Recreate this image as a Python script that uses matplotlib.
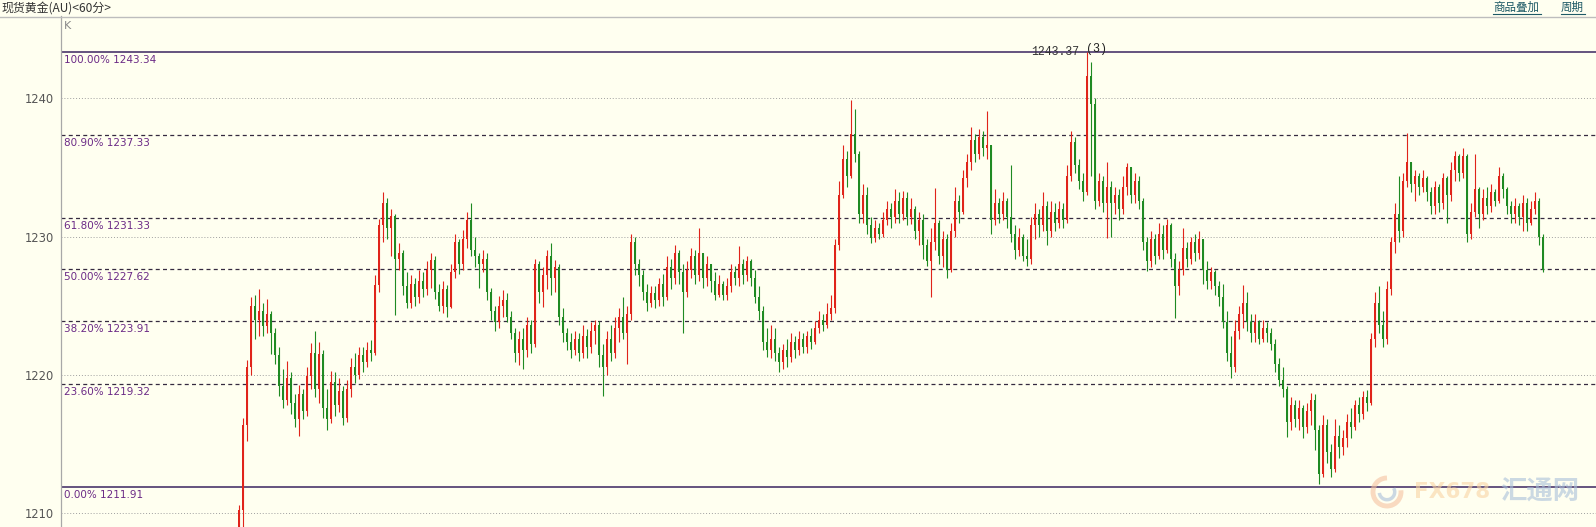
import matplotlib
matplotlib.use('Agg')
import matplotlib.pyplot as plt
from matplotlib.patches import Arc
from matplotlib.lines import Line2D

# hourly gold candles (open = previous close)
first_open = 1209.0
closes = [
    1210.2, 1216.4, 1220.6, 1225.0, 1224.0, 1224.6, 1223.5, 1224.4, 1223.0, 1221.4,
    1219.2, 1218.2, 1219.8, 1218.0, 1216.8, 1218.6, 1217.4, 1219.9, 1221.6, 1219.0,
    1221.5, 1217.6, 1216.8, 1219.5, 1217.8, 1218.8, 1216.9, 1219.0, 1220.6, 1220.0,
    1221.4, 1220.9, 1221.8, 1221.6, 1226.5, 1230.8, 1232.4, 1230.6, 1231.5, 1228.4,
    1228.8, 1226.4, 1225.2, 1226.6, 1225.6, 1226.8, 1226.2, 1227.6, 1228.3, 1226.0,
    1225.0, 1226.2, 1224.9, 1227.4, 1229.6, 1228.0, 1229.8, 1231.2, 1229.0, 1228.6,
    1228.0, 1228.4, 1226.0, 1224.6, 1223.8, 1225.0, 1225.4, 1224.2, 1223.0, 1221.6,
    1222.6, 1221.8, 1223.6, 1222.2, 1228.0, 1226.0, 1227.2, 1228.6, 1227.0, 1227.8,
    1224.2, 1223.0, 1222.4, 1221.8, 1222.6, 1221.6, 1222.8, 1222.0, 1223.2, 1223.6,
    1221.4, 1220.6, 1222.6, 1221.6, 1223.4, 1224.2, 1223.0, 1224.4, 1229.6, 1228.0,
    1227.2, 1226.0, 1225.2, 1225.9, 1225.4, 1226.6, 1225.6, 1227.8, 1227.0, 1228.8,
    1227.4, 1226.0, 1227.6, 1228.6, 1227.2, 1228.8, 1227.0, 1228.0, 1226.8, 1225.8,
    1226.6, 1225.8, 1226.4, 1227.4, 1227.0, 1228.0, 1227.2, 1228.2, 1227.0, 1225.6,
    1224.6, 1222.4, 1221.8, 1222.6, 1221.6, 1220.9, 1221.8, 1221.3, 1222.4, 1221.8,
    1222.6, 1222.0, 1222.8, 1222.4, 1223.4, 1224.0, 1223.6, 1224.4, 1224.8, 1229.4,
    1233.0, 1235.6, 1234.4, 1237.4, 1236.0, 1231.6, 1233.0, 1230.8, 1229.9, 1230.6,
    1230.2, 1231.2, 1232.0, 1231.4, 1232.6, 1231.6, 1232.8, 1231.4, 1232.0, 1230.4,
    1231.2, 1229.4, 1228.2, 1229.6, 1231.0, 1228.6, 1229.8, 1227.6, 1230.4, 1232.6,
    1231.8, 1234.2, 1235.4, 1237.0, 1236.0, 1237.2, 1236.4, 1236.6, 1231.2, 1232.4,
    1231.6, 1232.6, 1231.4, 1230.2, 1229.0, 1230.0, 1228.6, 1228.4, 1230.8, 1231.6,
    1230.8, 1232.2, 1230.4, 1231.8, 1231.0, 1232.0, 1231.2, 1234.4, 1236.8, 1235.2,
    1234.0, 1233.2, 1241.6, 1239.6, 1232.6, 1234.0, 1232.4, 1233.6, 1232.4, 1233.0,
    1232.0, 1233.6, 1235.0, 1233.0, 1234.0, 1232.6, 1229.6, 1228.2, 1229.8, 1228.6,
    1230.2, 1229.0, 1230.8, 1228.4, 1226.4, 1227.6, 1229.2, 1228.4, 1229.6, 1228.8,
    1229.8, 1227.6, 1226.8, 1227.4, 1226.4, 1225.6, 1223.8, 1221.6, 1220.6, 1223.2,
    1224.4, 1225.2, 1223.8, 1223.0, 1223.8, 1222.6, 1223.4, 1223.0, 1222.2, 1220.8,
    1219.6, 1219.0, 1216.6, 1217.8, 1216.8, 1217.6, 1216.2, 1217.4, 1218.2, 1216.0,
    1212.8, 1216.4, 1214.4, 1213.2, 1215.6, 1214.8, 1215.4, 1216.6, 1216.2, 1217.8,
    1217.2, 1218.4, 1218.0, 1222.6, 1225.2, 1223.6, 1222.6, 1226.2, 1229.6, 1231.6,
    1230.4, 1234.0, 1235.4, 1233.8, 1234.4, 1233.6, 1234.2, 1233.2, 1232.2, 1233.6,
    1232.4, 1234.2, 1233.0, 1234.8, 1235.8, 1234.6, 1235.8, 1230.2, 1231.8, 1233.4,
    1231.6, 1232.8, 1232.2, 1233.2, 1232.6, 1234.4, 1233.4, 1232.2, 1231.6, 1232.2,
    1231.4, 1232.4, 1231.0, 1232.0, 1232.6, 1230.0, 1227.6,
]
highs = [
    1210.6, 1216.9, 1221.1, 1225.6, 1225.8, 1226.2, 1225.2, 1225.5, 1224.6, 1223.4,
    1222.0, 1220.4, 1221.0, 1220.2, 1218.6, 1219.3, 1219.0, 1220.6, 1222.3, 1223.2,
    1222.4, 1221.8, 1219.0, 1220.3, 1220.2, 1219.8, 1219.2, 1219.6, 1221.2, 1221.6,
    1222.0, 1222.0, 1222.4, 1222.5, 1227.2, 1231.3, 1233.2, 1232.8, 1232.0, 1231.6,
    1229.5, 1229.0, 1227.4, 1227.2, 1227.0, 1227.6, 1227.4, 1228.2, 1228.8, 1228.6,
    1226.6, 1226.8, 1226.5, 1228.0, 1230.2, 1229.8, 1230.5, 1231.8, 1232.4, 1230.0,
    1228.8, 1229.0, 1228.8, 1226.3, 1225.0, 1225.7, 1226.1, 1225.9, 1224.6, 1223.4,
    1223.2, 1223.4, 1224.2, 1224.0, 1228.4, 1228.2, 1227.8, 1229.0, 1229.5, 1228.3,
    1228.0, 1224.8, 1223.4, 1223.0, 1223.2, 1223.0, 1223.6, 1223.3, 1223.8, 1224.0,
    1223.9, 1222.2, 1223.2, 1223.6, 1224.2, 1224.8, 1225.6, 1225.0, 1230.2, 1230.0,
    1228.4, 1227.6, 1226.6, 1226.4, 1226.4, 1227.0, 1227.3, 1228.6, 1228.4, 1229.4,
    1229.0, 1228.0, 1228.2, 1229.2, 1229.0, 1230.6, 1228.8, 1228.6, 1228.0, 1227.4,
    1227.2, 1226.8, 1227.0, 1228.0, 1227.9, 1229.3, 1228.4, 1228.6, 1228.4, 1227.6,
    1226.4, 1225.0, 1223.4, 1223.6, 1223.4, 1222.0, 1222.2, 1222.6, 1223.0, 1222.8,
    1223.2, 1223.0, 1223.2, 1223.4, 1223.9, 1224.6, 1224.4, 1225.2, 1225.8, 1229.8,
    1234.0, 1236.6, 1236.2, 1239.9, 1239.2, 1236.2, 1233.8, 1233.6, 1231.4, 1231.2,
    1231.0, 1231.8, 1232.6, 1232.4, 1233.4, 1233.2, 1233.3, 1233.2, 1232.8, 1232.2,
    1231.8, 1231.6, 1229.8, 1230.6, 1233.5, 1231.2, 1230.4, 1230.2, 1231.0, 1233.6,
    1233.0, 1234.8, 1236.0, 1237.9, 1237.4, 1237.8, 1237.6, 1239.1, 1236.6, 1233.4,
    1232.8, 1233.2, 1232.8, 1235.2, 1230.8, 1230.6, 1230.2, 1229.8, 1231.4, 1232.4,
    1232.0, 1233.2, 1232.6, 1232.6, 1232.4, 1232.6, 1232.4, 1235.2, 1237.6, 1237.2,
    1235.6, 1234.6, 1243.37, 1242.6, 1240.0, 1234.6, 1234.4, 1235.4, 1234.0, 1233.6,
    1233.4, 1234.4, 1235.3, 1235.0, 1234.6, 1234.4, 1232.8, 1230.0, 1230.4, 1230.2,
    1231.0, 1230.8, 1231.3, 1231.0, 1228.8, 1228.2, 1230.6, 1229.6, 1230.0, 1230.2,
    1230.4, 1229.8, 1228.2, 1227.8, 1227.6, 1226.8, 1226.6, 1224.6, 1222.8, 1224.0,
    1225.0, 1226.5, 1226.0, 1224.4, 1224.4, 1224.0, 1224.0, 1223.8, 1223.4, 1222.6,
    1221.2, 1220.6, 1219.2, 1218.4, 1218.2, 1218.2, 1217.8, 1218.0, 1218.7, 1218.6,
    1216.4, 1217.1, 1216.8, 1215.0, 1216.8, 1216.4, 1216.0, 1217.2, 1217.6, 1218.2,
    1218.4, 1218.8, 1218.9, 1223.0, 1226.0, 1226.4, 1224.6, 1226.8, 1230.0, 1232.4,
    1234.4, 1234.6, 1237.5, 1235.4, 1234.8, 1234.6, 1234.8, 1234.4, 1233.6, 1234.0,
    1233.8, 1234.6, 1234.4, 1235.4, 1236.2, 1236.0, 1236.4, 1236.0, 1232.4, 1236.0,
    1233.6, 1233.4, 1233.6, 1233.8, 1233.4, 1235.0, 1234.6, 1233.6, 1232.6, 1232.8,
    1232.4, 1233.0, 1232.8, 1232.6, 1233.2, 1232.8, 1230.2,
]
lows = [
    1208.5, 1208.8, 1215.2, 1220.0, 1222.6, 1222.8, 1222.8, 1223.0, 1221.5, 1220.8,
    1218.5, 1217.6, 1217.8, 1217.2, 1216.2, 1215.6, 1216.8, 1217.0, 1219.0, 1218.4,
    1218.0, 1216.9, 1216.0, 1216.5, 1217.0, 1217.3, 1216.4, 1216.6, 1218.4, 1219.4,
    1219.7, 1220.2, 1220.6, 1221.0, 1221.4, 1226.0, 1229.6, 1229.8, 1228.6, 1224.3,
    1227.6, 1225.8, 1224.8, 1224.8, 1225.0, 1225.2, 1225.6, 1225.8, 1226.3, 1225.5,
    1224.6, 1224.5, 1224.2, 1224.8, 1227.0, 1227.3, 1227.6, 1229.2, 1228.6, 1227.8,
    1226.3, 1227.4, 1225.4, 1224.0, 1223.2, 1223.4, 1224.2, 1223.8, 1222.6, 1220.9,
    1220.7, 1220.4, 1221.3, 1221.6, 1222.0, 1225.2, 1224.9, 1226.2, 1225.8, 1226.0,
    1223.6, 1222.4, 1221.8, 1221.2, 1221.4, 1221.0, 1221.2, 1221.2, 1221.6, 1222.2,
    1220.6, 1218.5, 1220.0, 1221.0, 1221.2, 1222.4, 1222.6, 1220.8, 1224.0, 1227.2,
    1226.4, 1225.4, 1224.6, 1224.9, 1224.8, 1225.0, 1225.0, 1225.4, 1226.2, 1226.6,
    1226.6, 1223.0, 1225.6, 1227.0, 1226.6, 1226.8, 1226.3, 1226.4, 1226.0, 1225.4,
    1225.6, 1225.4, 1225.4, 1226.0, 1226.5, 1226.4, 1226.6, 1226.8, 1226.4, 1225.2,
    1224.0, 1221.8, 1221.3, 1221.2, 1221.0, 1220.2, 1220.4, 1220.6, 1220.9, 1221.2,
    1221.4, 1221.6, 1221.6, 1221.9, 1222.2, 1223.0, 1223.2, 1223.4, 1224.0, 1224.5,
    1229.0, 1232.8, 1233.6, 1234.2, 1235.4, 1231.0, 1231.0, 1230.2, 1229.5, 1229.6,
    1229.8, 1230.0, 1230.8, 1230.6, 1231.0, 1231.0, 1231.2, 1230.8, 1230.9, 1229.8,
    1229.4, 1228.4, 1227.9, 1225.6, 1229.0, 1228.0, 1227.8, 1227.0, 1227.4, 1230.0,
    1231.0, 1231.6, 1233.6, 1234.8, 1235.4, 1235.6, 1235.8, 1235.6, 1230.2, 1230.8,
    1231.0, 1231.2, 1230.6, 1229.6, 1228.4, 1228.6, 1228.2, 1227.9, 1228.0, 1229.8,
    1230.0, 1230.4, 1229.4, 1230.0, 1230.4, 1230.6, 1230.6, 1231.0, 1234.0, 1234.6,
    1233.4, 1232.6, 1233.0, 1234.4, 1232.0, 1232.2, 1231.8, 1229.9, 1230.0, 1231.6,
    1231.2, 1231.6, 1233.0, 1232.4, 1232.4, 1232.0, 1229.0, 1227.5, 1227.8, 1228.0,
    1228.4, 1228.4, 1228.8, 1227.8, 1224.1, 1225.8, 1227.2, 1227.8, 1228.0, 1228.2,
    1228.4, 1226.6, 1226.2, 1226.2, 1225.8, 1225.0, 1223.4, 1221.0, 1219.8, 1220.2,
    1222.6, 1223.4, 1223.2, 1222.4, 1222.4, 1222.2, 1222.4, 1222.4, 1221.8, 1220.2,
    1219.2, 1218.4, 1215.5, 1216.0, 1216.2, 1216.0, 1215.4, 1215.8, 1216.4, 1214.6,
    1212.1, 1212.6, 1213.6, 1212.6, 1213.0, 1214.0, 1214.2, 1214.8, 1215.4, 1216.0,
    1216.6, 1216.8, 1217.4, 1217.8, 1222.0, 1223.0, 1222.0, 1222.2, 1225.8, 1228.8,
    1229.6, 1230.0, 1233.6, 1233.2, 1232.6, 1233.0, 1233.2, 1232.6, 1231.6, 1231.6,
    1231.8, 1232.0, 1231.0, 1232.6, 1234.0, 1234.0, 1234.2, 1229.6, 1229.8, 1231.4,
    1230.6, 1231.2, 1231.6, 1231.8, 1232.2, 1232.4, 1232.8, 1231.6, 1231.0, 1231.0,
    1230.8, 1230.4, 1230.4, 1230.8, 1231.6, 1229.4, 1227.4,
]

fib_pcts = ['100.00%', '80.90%', '61.80%', '50.00%', '38.20%', '23.60%', '0.00%']
fib_prices = [1243.34, 1237.33, 1231.33, 1227.62, 1223.91, 1219.32, 1211.91]
y_ticks = [1210, 1220, 1230, 1240]
peak_text = '1243.37'
peak_wave = '(3)'
low_wave = '(4)'
title = '现货黄金(AU)<60分>'
links = ['商品叠加', '周期']

bg = '#fffff0'
up_col = '#e0241a'
down_col = '#1f8a22'
cjk = ['Noto Sans CJK SC', 'DejaVu Sans']

W, H = 1596, 527
fig = plt.figure(figsize=(W / 100, H / 100), dpi=100)
fig.patch.set_facecolor(bg)
ax = fig.add_axes([61 / W, 0, (W - 61) / W, (H - 16) / H])
ax.set_facecolor(bg)

opens = [first_open] + closes[:-1]
xs = list(range(len(closes)))
cols = [up_col if c >= o else down_col for o, c in zip(opens, closes)]
bottoms = [min(o, c) for o, c in zip(opens, closes)]
heights = [max(abs(c - o), 0.08) for o, c in zip(opens, closes)]

ax.vlines(xs, lows, highs, colors=cols, linewidth=0.8, zorder=3)
ax.bar(xs, heights, bottom=bottoms, width=0.45, color=cols, linewidth=0, zorder=3)

ax.set_xlim(-44.5, -44.5 + (W - 61) / 4)
ax.set_ylim(1209.0, 1245.94)

# grid + axis
ax.set_yticks(y_ticks)
ax.set_xticks([])
ax.yaxis.grid(True, linestyle=(0, (1, 2)), color='#a0a0a0', linewidth=0.7)
ax.set_axisbelow(True)
ax.tick_params(axis='y', length=0, pad=5, labelsize=8.3, labelcolor='#555555')
for s in ['top', 'right', 'bottom']:
    ax.spines[s].set_visible(False)
ax.spines['left'].set_color('#a8a8a8')
ax.spines['left'].set_linewidth(0.9)

# fibonacci levels
for pct, price in zip(fib_pcts, fib_prices):
    if pct in ('100.00%', '0.00%'):
        ax.axhline(price, color='#3a2560', linewidth=1.1, zorder=2)
    else:
        ax.axhline(price, color='#352a40', linewidth=0.9, linestyle=(0, (3.2, 2.6)), zorder=2)
    ax.annotate(pct + ' ' + format(price, '.2f'), xy=(0, price),
                xycoords=('axes fraction', 'data'), xytext=(3, -3),
                textcoords='offset pixels', ha='left', va='top',
                fontsize=7.5, color='#6b2a86', zorder=4)

# wave marks
i_top = highs.index(max(highs))
i_bot = lows.index(min(lows))
ax.annotate(peak_text, xy=(i_top, highs[i_top]), xytext=(-8, -6), textcoords='offset pixels',
            ha='right', va='bottom', fontsize=8.3, family='Liberation Mono', color='#333333', zorder=5)
ax.annotate(peak_wave, xy=(i_top, highs[i_top]), xytext=(-1, -3), textcoords='offset pixels',
            ha='left', va='bottom', fontsize=8.5, family='Liberation Mono', color='#222222', zorder=5)
ax.annotate(low_wave, xy=(i_bot, lows[i_bot]), xytext=(2, -5), textcoords='offset pixels',
            ha='center', va='top', fontsize=8.5, family='Liberation Mono', color='#222222', zorder=5)

ax.text(0.002, 1 - 10 / (H - 16), 'K', transform=ax.transAxes, ha='left', va='center',
        fontsize=8, color='#888888')

# header strip
fig.text(1 / W, 1 - 8 / H, title, ha='left', va='center', fontsize=8.6, family=cjk, color='#333333')
fig.add_artist(Line2D([0, 1], [1 - 16.5 / H, 1 - 16.5 / H], color='#bdbdbd', linewidth=1))
link_x = [1493, 1561]
for lx, txt in zip(link_x, links):
    t = fig.text(lx / W, 1 - 7 / H, txt, ha='left', va='center', fontsize=8.3, family=cjk,
                 color='#1e5a66')
    wpx = 12 * len(txt)
    fig.add_artist(Line2D([lx / W, (lx + wpx) / W], [1 - 13.5 / H, 1 - 13.5 / H],
                          color='#1e5a66', linewidth=0.8))

# watermark
cx, cy, r = 1387 / W, 1 - 492 / H, 14
fig.add_artist(Arc((cx, cy), 2 * r / W, 2 * r / H, theta1=90, theta2=380, color='#f5c2a0',
                   linewidth=3.5, alpha=0.6))
fig.add_artist(Arc((cx, cy), 1.1 * r / W, 1.1 * r / H, theta1=200, theta2=420, color='#a9bfd9',
                   linewidth=2.5, alpha=0.6))
fig.text(1414 / W, 1 - 492 / H, 'FX678', ha='left', va='center', fontsize=15.5, fontweight='bold',
         color='#f9d4a4', alpha=0.6, family='DejaVu Sans')
fig.text(1500 / W, 1 - 492 / H, '汇通网', ha='left', va='center', fontsize=19, fontweight='bold',
         color='#a9c0da', alpha=0.6, family=cjk)

fig.savefig('out.png', dpi=100, facecolor=bg)
